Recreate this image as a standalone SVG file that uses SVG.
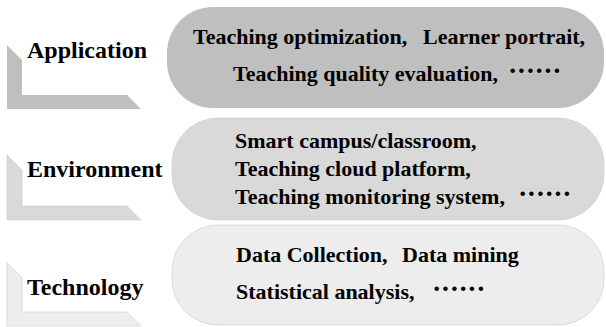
<svg xmlns="http://www.w3.org/2000/svg" width="606" height="327" viewBox="0 0 606 327">
<style>
  text { font-family: "Liberation Serif", "DejaVu Serif", serif; font-weight: bold; fill: #000; }
  .lbl { font-size: 24px; }
  .txt { font-size: 22px; }
  .dots { font-size: 28px; letter-spacing: -0.5px; }
  .l1 { fill: #bfbfbf; }
  .l2 { fill: #d9d9d9; stroke: #d2d2d2; stroke-width: 0.8; }
  .l3 { fill: #ededed; stroke: #d4d4d4; stroke-width: 0.8; }
</style>
<rect width="606" height="327" fill="#ffffff"/>

<g id="application">
  <polygon class="l1" points="7,45 22,60 22,95 127,95 141,109 7,109"/>
  <text class="lbl" x="27" y="58">Application</text>
  <rect class="l1" x="167" y="7" width="437" height="101" rx="46" ry="46"/>
  <text class="txt" x="193" y="44">Teaching optimization,</text>
  <text class="txt" x="423" y="44">Learner portrait,</text>
  <text class="txt" x="233" y="81">Teaching quality evaluation,</text>
  <text class="dots" x="508" y="80">······</text>
</g>

<g id="environment">
  <polygon class="l2" points="7,155 22,170 22,206 127,206 141,220 7,220"/>
  <text class="lbl" x="27" y="177">Environment</text>
  <rect class="l2" x="172" y="118" width="432" height="102" rx="46" ry="46"/>
  <text class="txt" x="235" y="148">Smart campus/classroom,</text>
  <text class="txt" x="235" y="176">Teaching cloud platform,</text>
  <text class="txt" x="235" y="204">Teaching monitoring system,</text>
  <text class="dots" x="518" y="203">······</text>
</g>

<g id="technology">
  <polygon class="l3" points="7,263 22,278 22,312 127,312 141,326 7,326"/>
  <text class="lbl" x="27" y="295">Technology</text>
  <rect class="l3" x="172" y="225" width="432" height="100" rx="46" ry="46"/>
  <text class="txt" x="236" y="262">Data Collection,</text>
  <text class="txt" x="402" y="262">Data mining</text>
  <text class="txt" x="236" y="299">Statistical analysis,</text>
  <text class="dots" x="432" y="298">······</text>
</g>

<g id="connectors"></g>
</svg>
